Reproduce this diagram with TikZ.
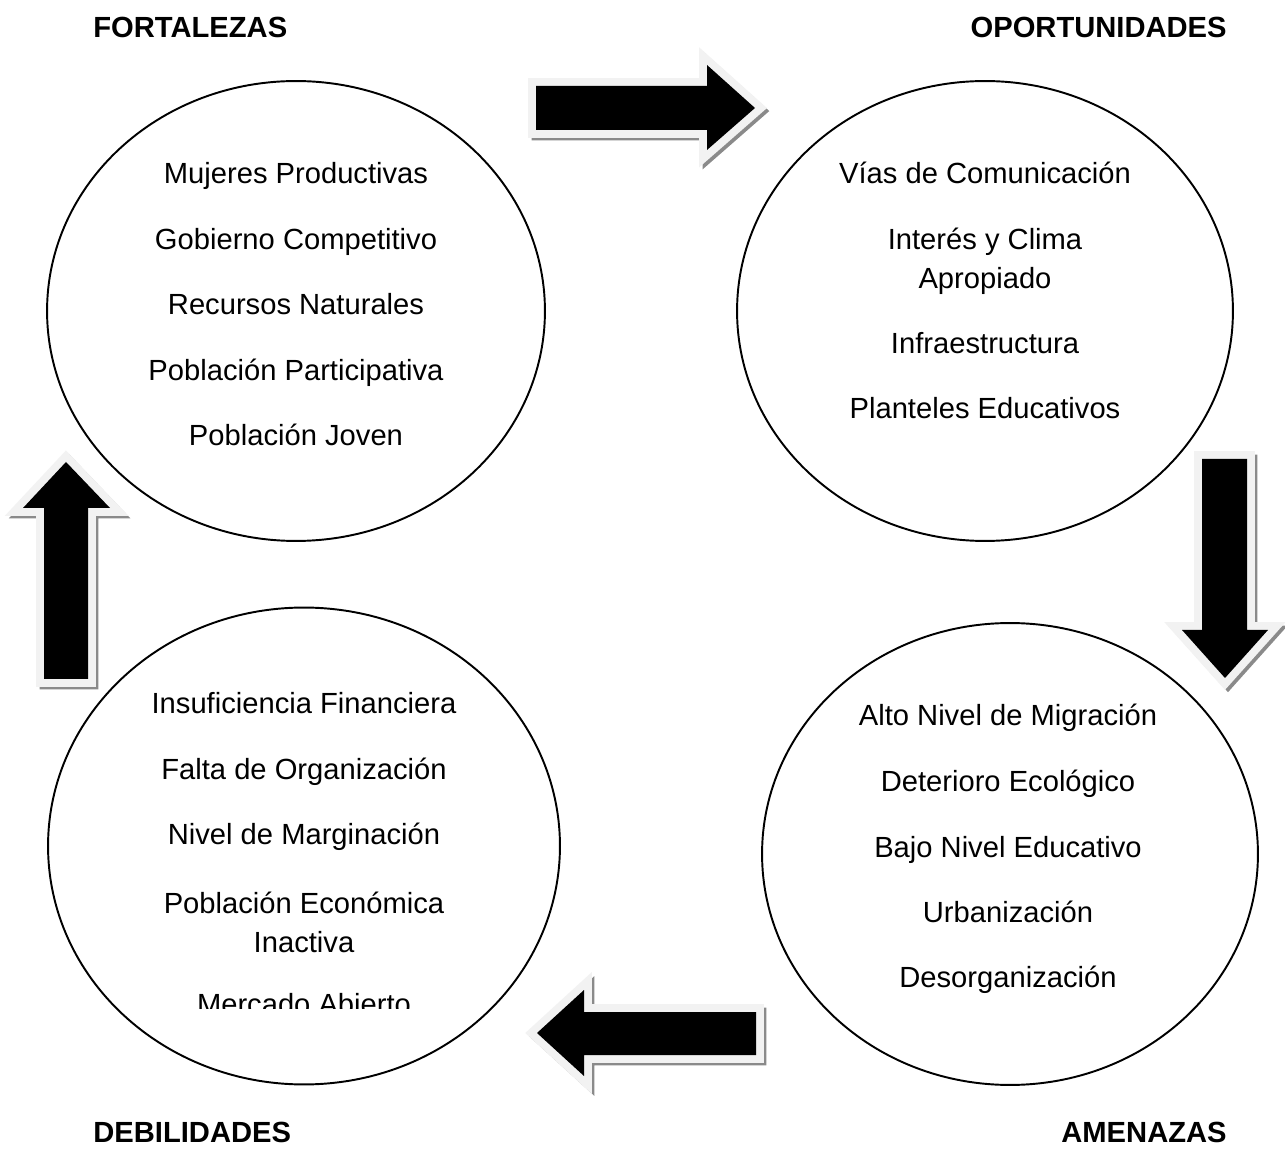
\documentclass[tikz,border=0pt]{standalone}
\usepackage{fontspec}
\setmainfont{Liberation Sans}
\usetikzlibrary{shapes.geometric}
\definecolor{rimgray}{HTML}{F2F2F2}
\definecolor{shadegray}{HTML}{8A8A8A}
\begin{document}
\begin{tikzpicture}[x=0.02cm,y=-0.02cm,
  circ/.style={ellipse, draw, line width=1.1pt, inner sep=0pt},
  itemtxt/.style={font=\fontsize{16.6}{22.1}\selectfont, anchor=base, inner sep=0pt, align=center},
  twoline/.style={font=\fontsize{16.6}{22.1}\selectfont, anchor=center, inner sep=0pt, align=center},
  titletxt/.style={font=\fontsize{16.6}{20}\selectfont\bfseries, inner sep=0pt},
  arrowshadow/.style={draw=shadegray, fill=shadegray, line width=8.5pt, line join=miter},
  arrowrim/.style={draw=rimgray, line width=9pt, line join=miter},
  arrowbody/.style={fill=black}]
\useasboundingbox (0,0) rectangle (1285,1151);
\fill[white] (0,0) rectangle (1285,1151);

% circles
\node[circ, minimum width=9.96cm, minimum height=9.2cm] (F) at (296,311) {};
\node[circ, minimum width=9.92cm, minimum height=9.2cm] (O) at (985,311) {};
\node[circ, minimum width=10.24cm, minimum height=9.54cm] (D) at (304,846) {};
\node[circ, minimum width=9.92cm, minimum height=9.24cm] (A) at (1010,854) {};

% arrows
\def\arrR{(536,86) -- (707,86) -- (707,65) -- (755,108) -- (707,150) -- (707,130) -- (536,130) -- cycle}
\def\arrD{(1202,459) -- (1247,459) -- (1247,630) -- (1268,630) -- (1225,678) -- (1182,630) -- (1202,630) -- cycle}
\def\arrU{(44,679) -- (88,679) -- (88,508) -- (110,508) -- (66,462) -- (23,508) -- (44,508) -- cycle}
\def\arrL{(756,1012) -- (584,1012) -- (584,990) -- (537,1033) -- (584,1076) -- (584,1055) -- (756,1055) -- cycle}
\foreach \a in {\arrR,\arrD,\arrU,\arrL}{
  \path[arrowshadow, shift={(3,3)}] \a;
  \path[arrowrim] \a;
  \path[arrowbody] \a;
}

% titles
\node[titletxt, anchor=base west] (tF) at (93,38) {FORTALEZAS};
\node[titletxt, anchor=base east] (tO) at (1227,38) {OPORTUNIDADES};
\node[titletxt, anchor=base west] (tD) at (93,1142) {DEBILIDADES};
\node[titletxt, anchor=base east] (tA) at (1227,1142) {AMENAZAS};

% Fortalezas
\node[itemtxt] (f1) at (296,184) {Mujeres Productivas};
\node[itemtxt] (f2) at (296,250) {Gobierno Competitivo};
\node[itemtxt] (f3) at (296,315) {Recursos Naturales};
\node[itemtxt] (f4) at (296,381) {Población Participativa};
\node[itemtxt] (f5) at (296,446) {Población Joven};

% Oportunidades
\node[itemtxt] (o1) at (985,184) {Vías de Comunicación};
\node[twoline] (o2) at (985,261) {Interés y Clima\\Apropiado};
\node[itemtxt] (o3) at (985,354) {Infraestructura};
\node[itemtxt] (o4) at (985,419) {Planteles Educativos};

% Debilidades
\node[itemtxt] (d1) at (304,714) {Insuficiencia Financiera};
\node[itemtxt] (d2) at (304,780) {Falta de Organización};
\node[itemtxt] (d3) at (304,845) {Nivel de Marginación};
\node[twoline] (d4) at (304,922) {Población Económica\\Inactiva};
\begin{scope}
\clip (0,0) rectangle (1285,1008);
\node[itemtxt] (d5) at (304,1014) {Mercado Abierto};
\end{scope}

% Amenazas
\node[itemtxt] (a1) at (1008,726) {Alto Nivel de Migración};
\node[itemtxt] (a2) at (1008,791) {Deterioro Ecológico};
\node[itemtxt] (a3) at (1008,857) {Bajo Nivel Educativo};
\node[itemtxt] (a4) at (1008,922) {Urbanización};
\node[itemtxt] (a5) at (1008,987) {Desorganización};
\end{tikzpicture}
\end{document}
